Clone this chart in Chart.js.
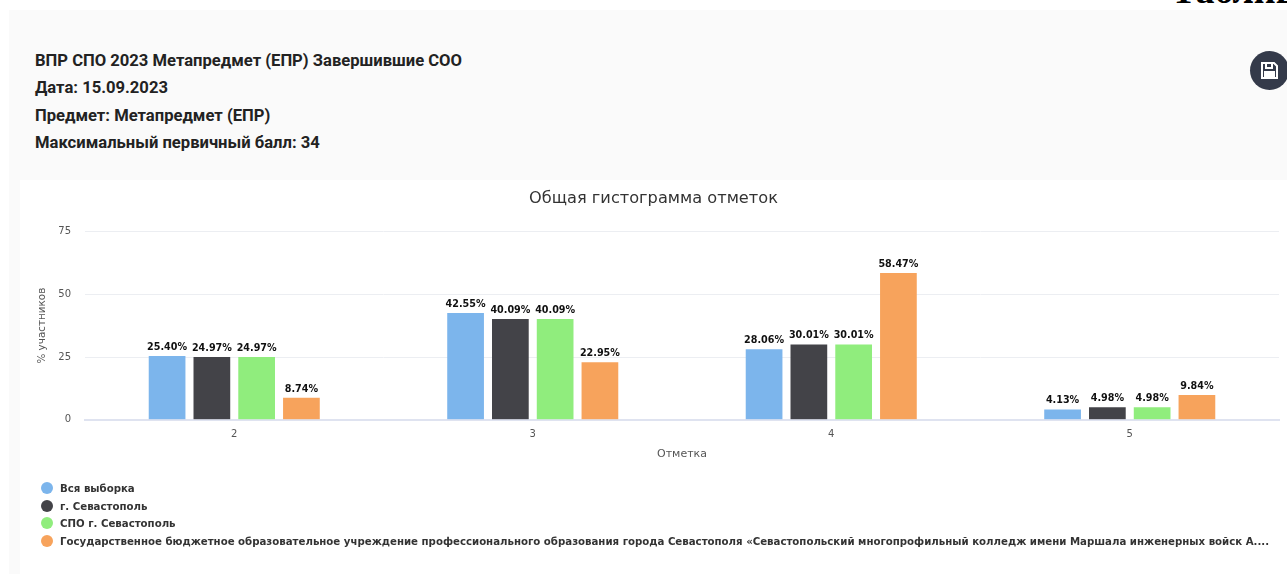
<!DOCTYPE html>
<html lang="ru">
<head>
<meta charset="utf-8">
<title>Общая гистограмма отметок</title>
<script src="https://cdn.jsdelivr.net/npm/chart.js@4"></script>
<style>
  html, body { margin: 0; height: 100%; background: #fff; overflow: hidden; }
  .clip-title { position: absolute; left: 1171px; top: -26px; font: bold 38px/32px "Liberation Serif", serif; color: #000; white-space: nowrap; }
  .panel { position: absolute; left: 9px; top: 10px; right: 0; bottom: 0; background: #fafafa; }
  .info { position: absolute; left: 35px; top: 47px; font: bold 16.6px/27.3px Roboto, sans-serif; color: #222; }
  .save { position: absolute; left: 1250px; top: 51px; width: 39px; height: 39px; border-radius: 50%; background: #343a4a; }
  .save svg { position: absolute; left: 10px; top: 10px; }
  .chart-box { position: absolute; left: 20px; top: 180px; width: 1267px; height: 394px; background: #fff; }
  .legend { position: absolute; left: 41px; top: 480px; font: bold 10.2px/17.6px "DejaVu Sans", sans-serif; color: #333; }
  .legend div { white-space: nowrap; }
  .legend i { display: inline-block; width: 12px; height: 12px; border-radius: 50%; margin-right: 7px; vertical-align: -2px; }
</style>
</head>
<body>
<div class="clip-title">Таблица</div>
<div class="panel"></div>
<div class="info">
  <div>ВПР СПО 2023 Метапредмет (ЕПР) Завершившие СОО</div>
  <div>Дата: 15.09.2023</div>
  <div>Предмет: Метапредмет (ЕПР)</div>
  <div>Максимальный первичный балл: 34</div>
</div>
<div class="save">
  <svg width="19" height="19" viewBox="0 0 19 19" fill="none" stroke="#fff" stroke-width="2">
    <path d="M2 2h12l3 3v12H2z"/><path d="M6 2v5h6V2"/><path d="M5 17v-6h9v6" fill="#fff"/>
  </svg>
</div>
<div class="chart-box"><canvas id="marks-chart"></canvas></div>
<div class="legend" id="marks-legend"></div>

<script>
const categories = ['2', '3', '4', '5'];
const yTicks = [0, 25, 50, 75];
const seriesNames = [
  'Вся выборка',
  'г. Севастополь',
  'СПО г. Севастополь',
  'Государственное бюджетное образовательное учреждение профессионального образования города Севастополя «Севастопольский многопрофильный колледж имени Маршала инженерных войск А....'
];
const allSample = [25.40, 42.55, 28.06, 4.13];
const sevastopol = [24.97, 40.09, 30.01, 4.98];
const spoSevastopol = [24.97, 40.09, 30.01, 4.98];
const college = [8.74, 22.95, 58.47, 9.84];
const seriesColors = ['#7cb5ec', '#434348', '#90ed7d', '#f7a35c'];

// Percent labels above the bars
const barLabels = {
  id: 'barLabels',
  afterDatasetsDraw(chart) {
    const ctx = chart.ctx;
    ctx.save();
    ctx.font = 'bold 9.6px "DejaVu Sans", sans-serif';
    ctx.fillStyle = '#111';
    ctx.textAlign = 'center';
    ctx.textBaseline = 'bottom';
    chart.data.datasets.forEach((dataset, i) => {
      chart.getDatasetMeta(i).data.forEach((bar, j) => {
        ctx.fillText(dataset.data[j].toFixed(2) + '%', bar.x, bar.y - 4);
      });
    });
    ctx.restore();
  }
};

const tickFont = { family: '"DejaVu Sans", sans-serif', size: 10 };

new Chart(document.getElementById('marks-chart'), {
  type: 'bar',
  data: {
    labels: categories,
    datasets: [allSample, sevastopol, spoSevastopol, college].map((values, i) => ({
      label: seriesNames[i],
      data: values,
      backgroundColor: seriesColors[i],
      borderWidth: 0,
      categoryPercentage: 0.6,
      barPercentage: 0.82
    }))
  },
  options: {
    responsive: true,
    maintainAspectRatio: false,
    animation: false,
    layout: { padding: { left: 8, right: 8, bottom: 113 } },
    plugins: {
      legend: { display: false },
      tooltip: { enabled: false },
      title: {
        display: true,
        text: 'Общая гистограмма отметок',
        color: '#333',
        font: { family: '"DejaVu Sans", sans-serif', size: 16.2, weight: 'normal' },
        padding: { top: 9, bottom: 23 }
      }
    },
    scales: {
      x: {
        grid: { display: false },
        border: { color: '#dfe3f0', width: 2 },
        ticks: { color: '#555', font: tickFont, padding: 1 },
        title: {
          display: true,
          text: 'Отметка',
          color: '#555',
          font: { family: '"DejaVu Sans", sans-serif', size: 11 },
          padding: { top: 6, bottom: 0 }
        }
      },
      y: {
        min: 0,
        max: 75,
        afterBuildTicks(axis) { axis.ticks = yTicks.map(v => ({ value: v })); },
        afterFit(axis) { axis.width = 57; },
        grid: { color: '#eceef2', drawTicks: false },
        border: { display: false },
        ticks: { color: '#555', font: tickFont, padding: 14 },
        title: {
          display: true,
          text: '% участников',
          color: '#555',
          font: { family: '"DejaVu Sans", sans-serif', size: 10.4 },
          padding: { top: 8, bottom: 0 }
        }
      }
    }
  },
  plugins: [barLabels]
});

// Legend is one row per series, as in the report
document.getElementById('marks-legend').innerHTML = seriesNames
  .map((name, i) => `<div><i style="background:${seriesColors[i]}"></i>${name}</div>`)
  .join('');
</script>
</body>
</html>
